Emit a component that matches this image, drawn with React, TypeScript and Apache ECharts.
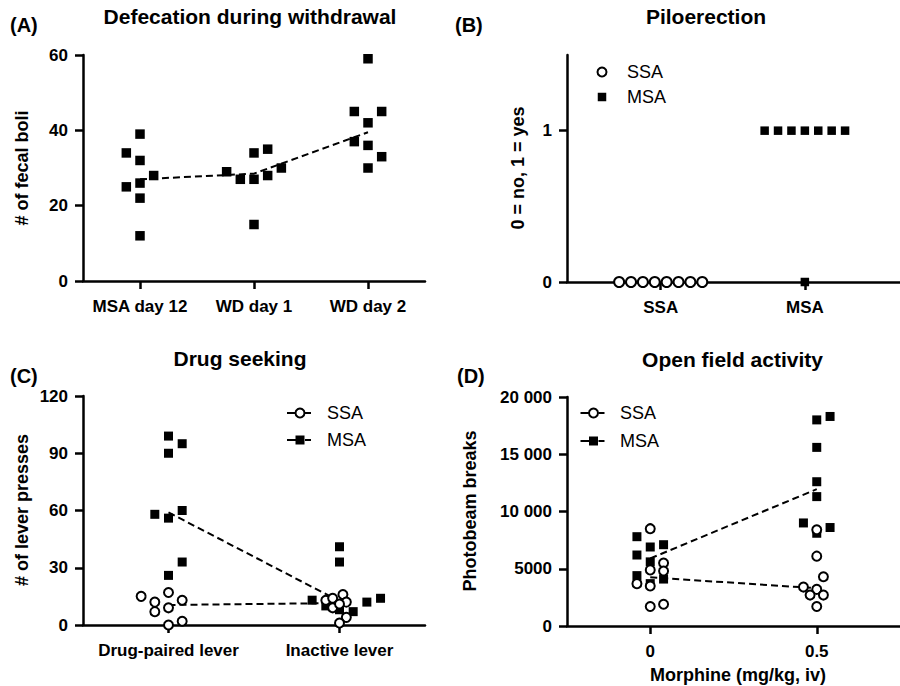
import React, { useEffect, useRef } from "react";
import * as echarts from "echarts";

const FONT = "'Liberation Sans', Arial, Helvetica, sans-serif";

// ---------- Panel A: Defecation during withdrawal ----------
const aCategories = ["MSA day 12", "WD day 1", "WD day 2"];
const aValues = [
  [34, 39, 32, 28, 25, 26, 22, 12],
  [29, 27, 34, 27, 35, 28, 30, 15],
  [59, 45, 45, 42, 37, 36, 33, 30],
];
const aJitter = [
  [-1, 0, 0, 1, -1, 0, 0, 0],
  [-2, -1, 0, 0, 1, 1, 2, 0],
  [0, -1, 1, 0, -1, 0, 1, 0],
];

// ---------- Panel B: Piloerection ----------
const bCategories = ["SSA", "MSA"];
const bSSA = [0, 0, 0, 0, 0, 0, 0, 0];
const bSSAJitter = [-3.5, -2.5, -1.5, -0.5, 0.5, 1.5, 2.5, 3.5];
const bMSA = [1, 1, 1, 1, 1, 1, 1, 0];
const bMSAJitter = [-3, -2, -1, 0, 1, 2, 3, 0];
const bYTicks = [0, 1];

// ---------- Panel C: Drug seeking ----------
const cCategories = ["Drug-paired lever", "Inactive lever"];
const cSSA = [
  [15, 12, 17, 13, 7, 9, 0, 2],
  [13, 14, 16, 12, 9, 4, 1, 11],
];
const cSSAJitter = [
  [-2, -1, 0, 1, -1, 0, 0, 1],
  [-1, -0.5, 0.25, 0.5, -0.5, 0.5, 0, 0],
];
const cMSA = [
  [99, 95, 90, 58, 56, 60, 33, 26],
  [41, 33, 13, 10, 8, 7, 12, 14],
];
const cMSAJitter = [
  [0, 1, 0, -1, 0, 1, 1, 0],
  [0, 0, -2, -1, 0, 1, 2, 3],
];

// ---------- Panel D: Open field activity ----------
const dDoses = [0, 0.5];
const dSSA = [
  [8500, 5500, 4900, 4800, 3700, 3500, 1700, 1900],
  [8400, 6100, 4300, 3400, 3200, 2700, 2700, 1700],
];
const dSSAJitter = [
  [0, 1, 0, 1, -1, 0, 0, 1],
  [0, 0, 0.5, -1, 0, -0.5, 0.5, 0],
];
const dMSA = [
  [7800, 6200, 6900, 7100, 5600, 4400, 4100, 3700],
  [18300, 18000, 15600, 12600, 11300, 9000, 8600, 8100],
];
const dMSAJitter = [
  [-1, -1, 0, 1, 0, -1, 1, 0],
  [1, 0, 0, 0, 0, -1, 1, 0],
];

const median = (arr: number[]) => {
  const s = [...arr].sort((a, b) => a - b);
  const n = s.length;
  return n % 2 ? s[(n - 1) / 2] : (s[n / 2 - 1] + s[n / 2]) / 2;
};

const jittered = (values: number[], jitter: number[], center: number, step: number) =>
  values.map((v, i) => [center + jitter[i] * step, v]);

const groupPoints = (groups: number[][], jitters: number[][], centers: number[], step: number) =>
  groups.flatMap((g, gi) => jittered(g, jitters[gi], centers[gi], step));

const medianLine = (groups: number[][], centers: number[]) =>
  groups.map((g, gi) => [centers[gi], median(g)]);

const fmtThousands = (v: number) =>
  v >= 10000 ? String(v).replace(/\B(?=(\d{3})+(?!\d))/g, " ") : String(v);

export default function App() {
  const ref = useRef<HTMLDivElement>(null);

  useEffect(() => {
    if (!ref.current) return;
    const chart = echarts.init(ref.current, undefined, { renderer: "svg" });

    const axisLine = { show: true, onZero: false, lineStyle: { color: "#000", width: 2.5 } };
    const tick = (extra: any = {}) => ({
      show: true,
      inside: false,
      length: 8,
      lineStyle: { color: "#000", width: 2.5 },
      ...extra,
    });
    const label = (extra: any = {}) => ({
      show: true,
      color: "#000",
      fontFamily: FONT,
      fontWeight: "bold",
      fontSize: 17,
      ...extra,
    });

    const squareSeries = (data: number[][], xi: number, size = 9) => ({
      type: "scatter",
      xAxisIndex: xi,
      yAxisIndex: xi,
      data,
      symbol: "rect",
      symbolSize: size,
      itemStyle: { color: "#000", opacity: 1 },
      clip: false,
      silent: true,
      z: 3,
    });
    const circleSeries = (data: number[][], xi: number, size = 9) => ({
      type: "scatter",
      xAxisIndex: xi,
      yAxisIndex: xi,
      data,
      symbol: "circle",
      symbolSize: size,
      itemStyle: { color: "#fff", borderColor: "#000", borderWidth: 2, opacity: 1 },
      clip: false,
      silent: true,
      z: 4,
    });
    const dashedLine = (data: number[][], xi: number) => ({
      type: "line",
      xAxisIndex: xi,
      yAxisIndex: xi,
      data,
      symbol: "none",
      lineStyle: { color: "#000", width: 2, type: [7, 4], opacity: 1 },
      silent: true,
      z: 2,
    });

    const aCenters = aCategories.map((_, i) => i);
    const cCenters = cCategories.map((_, i) => i);

    const text = (t: string, x: number, y: number, font: string, align = "center", rotation = 0) => ({
      type: "text",
      x,
      y,
      rotation,
      silent: true,
      style: { text: t, x: 0, y: 0, fill: "#000", font, textAlign: align, textVerticalAlign: "middle" },
    });
    const titleFont = `bold 21px ${FONT}`;
    const letterFont = `bold 20px ${FONT}`;
    const nameFont = `bold 18px ${FONT}`;
    const legendFont = `18px ${FONT}`;

    const legendCircle = (cx: number, cy: number) => ({
      type: "circle",
      silent: true,
      shape: { cx, cy, r: 4.5 },
      style: { fill: "#fff", stroke: "#000", lineWidth: 2 },
      z: 10,
    });
    const legendSquare = (cx: number, cy: number, s: number) => ({
      type: "rect",
      silent: true,
      shape: { x: cx - s / 2, y: cy - s / 2, width: s, height: s },
      style: { fill: "#000" },
      z: 10,
    });
    const legendDash = (cx: number, cy: number) => [
      { type: "line", silent: true, shape: { x1: cx - 13, y1: cy, x2: cx - 4, y2: cy }, style: { stroke: "#000", lineWidth: 2 } },
      { type: "line", silent: true, shape: { x1: cx + 5, y1: cy, x2: cx + 11, y2: cy }, style: { stroke: "#000", lineWidth: 2 } },
    ];

    const option: any = {
      animation: false,
      backgroundColor: "#fff",
      grid: [
        { left: 83, top: 55, width: 342, height: 226 },
        { left: 567, top: 55, width: 342, height: 227 },
        { left: 83, top: 396, width: 342, height: 229 },
        { left: 567, top: 397, width: 342, height: 229 },
      ],
      xAxis: [
        {
          type: "value",
          gridIndex: 0,
          min: -0.5,
          max: 2.5,
          axisLine,
          axisTick: tick({ customValues: aCenters }),
          axisLabel: label({ customValues: aCenters, margin: 17, formatter: (v: number) => aCategories[Math.round(v)] ?? "" }),
          splitLine: { show: false },
        },
        {
          type: "value",
          gridIndex: 1,
          min: -0.65,
          max: 1.66,
          axisLine,
          axisTick: tick({ customValues: [0, 1] }),
          axisLabel: label({ customValues: [0, 1], margin: 17, formatter: (v: number) => bCategories[Math.round(v)] ?? "" }),
          splitLine: { show: false },
        },
        {
          type: "value",
          gridIndex: 2,
          min: -0.5,
          max: 1.5,
          axisLine,
          axisTick: tick({ customValues: cCenters }),
          axisLabel: label({ customValues: cCenters, margin: 17, formatter: (v: number) => cCategories[Math.round(v)] ?? "" }),
          splitLine: { show: false },
        },
        {
          type: "value",
          gridIndex: 3,
          min: -0.25,
          max: 0.75,
          axisLine,
          axisTick: tick({ customValues: dDoses }),
          axisLabel: label({ customValues: dDoses, margin: 17, formatter: (v: number) => String(v) }),
          splitLine: { show: false },
        },
      ],
      yAxis: [
        {
          type: "value",
          gridIndex: 0,
          min: 0,
          max: 60,
          interval: 20,
          axisLine,
          axisTick: tick(),
          axisLabel: label({ margin: 15 }),
          splitLine: { show: false },
        },
        {
          type: "value",
          gridIndex: 1,
          min: 0,
          max: 1.5,
          axisLine,
          axisTick: tick({ customValues: bYTicks }),
          axisLabel: label({ customValues: bYTicks, margin: 15 }),
          splitLine: { show: false },
        },
        {
          type: "value",
          gridIndex: 2,
          min: 0,
          max: 120,
          interval: 30,
          axisLine,
          axisTick: tick(),
          axisLabel: label({ margin: 15 }),
          splitLine: { show: false },
        },
        {
          type: "value",
          gridIndex: 3,
          min: 0,
          max: 20000,
          interval: 5000,
          axisLine,
          axisTick: tick(),
          axisLabel: label({ margin: 15, formatter: fmtThousands }),
          splitLine: { show: false },
        },
      ],
      series: [
        // A
        dashedLine(medianLine(aValues, aCenters), 0),
        squareSeries(groupPoints(aValues, aJitter, aCenters, 0.12), 0, 9.5),
        // B
        squareSeries(jittered(bMSA, bMSAJitter, 1, 0.093), 1, 8.5),
        circleSeries(jittered(bSSA, bSSAJitter, 0, 0.0824), 1, 10),
        // C
        dashedLine(medianLine(cMSA, cCenters), 2),
        dashedLine(medianLine(cSSA, cCenters), 2),
        squareSeries(groupPoints(cMSA, cMSAJitter, cCenters, 0.08), 2, 9),
        circleSeries(groupPoints(cSSA, cSSAJitter, cCenters, 0.08), 2, 9),
        // D
        dashedLine(medianLine(dMSA, dDoses), 3),
        dashedLine(medianLine(dSSA, dDoses), 3),
        squareSeries(groupPoints(dMSA, dMSAJitter, dDoses, 0.04), 3, 9),
        circleSeries(groupPoints(dSSA, dSSAJitter, dDoses, 0.04), 3, 9),
      ],
      graphic: [
        // titles & letters
        text("(A)", 10, 25, letterFont, "left"),
        text("Defecation during withdrawal", 250, 16.5, titleFont),
        text("(B)", 455, 25, letterFont, "left"),
        text("Piloerection", 706, 16.5, titleFont),
        text("(C)", 10, 376, letterFont, "left"),
        text("Drug seeking", 240, 358, titleFont),
        text("(D)", 457, 376, letterFont, "left"),
        text("Open field activity", 732.5, 359, titleFont),
        // axis names
        text("# of fecal boli", 22, 168, nameFont, "center", Math.PI / 2),
        text("0 = no, 1 = yes", 517.5, 168, nameFont, "center", Math.PI / 2),
        text("# of lever presses", 22, 510, nameFont, "center", Math.PI / 2),
        text("Photobeam breaks", 470, 511, nameFont, "center", Math.PI / 2),
        text("Morphine (mg/kg, iv)", 738, 675, nameFont),
        // legend B
        legendCircle(602, 72),
        text("SSA", 627, 72, legendFont, "left"),
        legendSquare(602, 97, 8.5),
        text("MSA", 627, 97, legendFont, "left"),
        // legend C
        ...legendDash(300, 413),
        legendCircle(300, 413),
        text("SSA", 327, 413, legendFont, "left"),
        ...legendDash(300, 440),
        legendSquare(300, 440, 9),
        text("MSA", 327, 440, legendFont, "left"),
        // legend D
        ...legendDash(593.5, 413),
        legendCircle(593.5, 413),
        text("SSA", 620, 413, legendFont, "left"),
        ...legendDash(593.5, 441),
        legendSquare(593.5, 441, 9),
        text("MSA", 620, 441, legendFont, "left"),
      ],
    };

    chart.setOption(option);
    return () => chart.dispose();
  }, []);

  return (
    <div
      ref={ref}
      style={{ position: "fixed", left: 0, top: 0, width: 900, height: 686, background: "#fff" }}
    />
  );
}
